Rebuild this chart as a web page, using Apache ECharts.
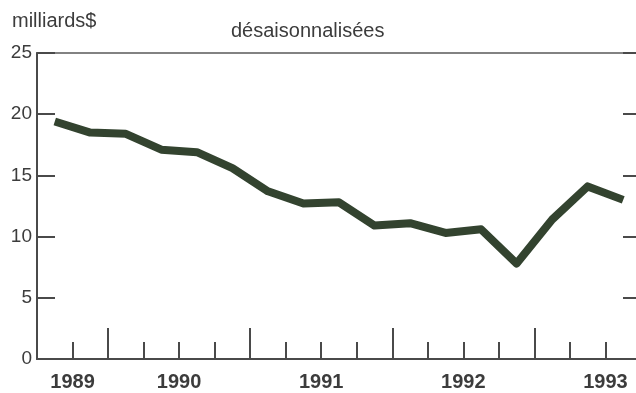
<!DOCTYPE html>
<html>
<head>
<meta charset="utf-8">
<script src="https://cdn.jsdelivr.net/npm/echarts@6/dist/echarts.min.js"></script>
<style>
  html, body { margin: 0; padding: 0; background: #fff; }
  #chart { width: 636px; height: 393px; }
</style>
</head>
<body>
<div id="chart"></div>
<script>
// Quarterly series, seasonally adjusted (billions of dollars)
const quarters = [
  '1989-T3', '1989-T4',
  '1990-T1', '1990-T2', '1990-T3', '1990-T4',
  '1991-T1', '1991-T2', '1991-T3', '1991-T4',
  '1992-T1', '1992-T2', '1992-T3', '1992-T4',
  '1993-T1', '1993-T2', '1993-T3'
];
const values = [
  19.4, 18.5,
  18.4, 17.1, 16.9, 15.6,
  13.7, 12.7, 12.8, 10.9,
  11.1, 10.3, 10.6, 7.8,
  11.4, 14.1, 13.0
];
const yTicks = [0, 5, 10, 15, 20, 25];
const unitLabel = 'milliards$';
const subtitle = 'désaisonnalisées';

// Quarter i occupies the band [i, i+1] on the x scale; points sit mid-band.
const seriesData = values.map((v, i) => [i + 0.5, v]);

// Year boundaries (start of T1) get tall ticks, other quarter boundaries short ones.
const yearStarts = [];
const shortTicks = [];
for (let i = 1; i < quarters.length; i++) {
  if (quarters[i].endsWith('T1')) yearStarts.push(i); else shortTicks.push(i);
}

// One label per year, at the centre of its year band (or of its visible part).
const yearSpans = {};
quarters.forEach((q, i) => {
  const [y, t] = q.split('-T');
  if (!(y in yearSpans)) yearSpans[y] = { first: i, last: i, start: i - (Number(t) - 1) };
  yearSpans[y].last = i;
});
const labelPos = {};
Object.keys(yearSpans).forEach(y => {
  const o = yearSpans[y];
  labelPos[Math.max(o.start + 2, (o.first + o.last + 1) / 2)] = y;
});

const axisColor = '#4a4a4a';
const textColor = '#3c3c3c';
const font = '"Liberation Sans", Arial, Helvetica, sans-serif';

const chart = echarts.init(document.getElementById('chart'), null, { renderer: 'canvas' });
chart.setOption({
  animation: false,
  backgroundColor: '#ffffff',
  grid: {
    left: 37, top: 53, width: 604, height: 306,
    outerBoundsMode: 'none', containLabel: false,
    show: true, borderColor: '#5a5a5a', borderWidth: 1.5, backgroundColor: 'transparent'
  },
  graphic: [
    { type: 'text', left: 12, top: 11,
      style: { text: unitLabel, font: '20px ' + font, fill: textColor } },
    { type: 'text', left: 231, top: 21,
      style: { text: subtitle, font: '20px ' + font, fill: textColor } }
  ],
  xAxis: [
    {
      type: 'value', min: 0, max: quarters.length, interval: 1,
      axisLine: { show: true, onZero: false, lineStyle: { color: axisColor, width: 2 } },
      axisTick: { show: true, inside: true, length: 17, customValues: shortTicks,
                  lineStyle: { color: axisColor, width: 2 } },
      axisLabel: {
        show: true, customValues: Object.keys(labelPos).map(Number), margin: 13,
        formatter: v => labelPos[v] || '',
        fontSize: 20, fontWeight: 'bold', color: textColor, fontFamily: font
      },
      splitLine: { show: false }
    },
    {
      type: 'value', min: 0, max: quarters.length, interval: 1, position: 'bottom',
      axisLine: { show: false, onZero: false },
      axisTick: { show: true, inside: true, length: 31, customValues: yearStarts,
                  lineStyle: { color: axisColor, width: 2 } },
      axisLabel: { show: false },
      splitLine: { show: false }
    }
  ],
  yAxis: [
    {
      type: 'value', position: 'left', min: yTicks[0], max: yTicks[yTicks.length - 1],
      interval: yTicks[1] - yTicks[0],
      axisLine: { show: true, onZero: false, lineStyle: { color: axisColor, width: 2 } },
      axisTick: { show: true, inside: true, length: 18, lineStyle: { color: axisColor, width: 2 } },
      axisLabel: { show: true, margin: 5, fontSize: 19, color: textColor, fontFamily: font },
      splitLine: { show: false }
    },
    {
      type: 'value', position: 'right', min: yTicks[0], max: yTicks[yTicks.length - 1],
      interval: yTicks[1] - yTicks[0],
      axisLine: { show: true, onZero: false, lineStyle: { color: axisColor, width: 2 } },
      axisTick: { show: true, inside: true, length: 18, lineStyle: { color: axisColor, width: 2 } },
      axisLabel: { show: false },
      splitLine: { show: false }
    }
  ],
  series: [{
    type: 'line',
    xAxisIndex: 0, yAxisIndex: 0,
    data: seriesData,
    showSymbol: false,
    smooth: false,
    lineStyle: { color: '#33432f', width: 8, cap: 'butt', join: 'round' },
    clip: false
  }]
});
</script>
</body>
</html>
